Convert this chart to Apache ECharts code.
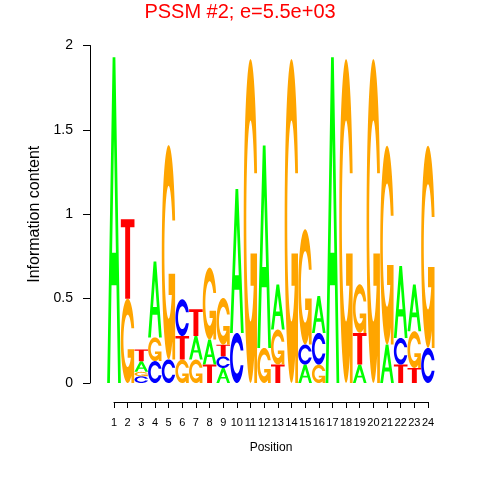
<!DOCTYPE html>
<html>
<head>
<meta charset="utf-8">
<script src="https://cdn.jsdelivr.net/npm/echarts@6/dist/echarts.min.js"></script>
<style>html,body{margin:0;padding:0;background:#fff}#c{width:480px;height:480px}</style>
</head>
<body>
<div id="c"></div>
<script>
// ---- data (information content in bits per letter, per position) ----
const positions = [1,2,3,4,5,6,7,8,9,10,11,12,13,14,15,16,17,18,19,20,21,22,23,24];
const bitsA = [1.93,0,0.063,0.45,0,0,0.139,0.149,0.089,0.852,0,1.20,0.267,0,0.109,0.218,1.93,0,0.109,0,0.228,0.426,0.277,0];
const bitsC = [0,0,0.04,0.13,0.14,0.218,0,0,0.069,0.297,0,0,0,0,0.119,0.188,0,0,0,0,0,0.158,0,0.208];
const bitsG = [0,0.50,0.026,0.14,1.27,0.139,0.139,0.426,0.277,0,1.92,0.208,0.208,1.92,0.683,0.109,0,1.92,0.288,1.92,1.178,0,0.218,1.198];
const bitsT = [0,0.47,0.069,0,0,0.139,0.159,0.109,0.069,0,0,0,0.109,0,0,0,0,0,0.188,0,0,0.109,0.089,0];
// letters stacked bottom -> top at each position
const stackOrder = ["A","GT","CGAT","CGA","CG","GTC","GAT","TAG","ACTG","CA","G","GA","TGA","G","ACG","GCA","A","G","ATG","G","AG","TCA","TGA","CG"];
const yTicks = [0, 0.5, 1, 1.5, 2];
const titleText = 'PSSM #2; e=5.5e+03';

const bits = {A: bitsA, C: bitsC, G: bitsG, T: bitsT};
const colors = {A: '#00ff00', C: '#0000ff', G: '#ffa500', T: '#ff0000'};

// ---- glyph outlines in a unit box (x right, y up) ----
function area(p){let s=0;for(let i=0;i<p.length;i++){const a=p[i],b=p[(i+1)%p.length];s+=a[0]*b[1]-b[0]*a[1];}return s/2;}
function orient(p, positive){const s=area(p);return ((s>0)===positive)?p:p.slice().reverse();}
function ring(){
  const t0=0.3, ro=0.5, ri=0.31, N=60;
  const yc=ro*Math.sin(t0);
  const p0=Math.asin(Math.min(0.999, yc/ri));
  const pts=[];
  for(let k=0;k<=N;k++){const a=t0+(2*Math.PI-2*t0)*k/N;pts.push([0.5+ro*Math.cos(a),0.5+ro*Math.sin(a)]);}
  for(let k=N;k>=0;k--){const a=p0+(2*Math.PI-2*p0)*k/N;pts.push([0.5+ri*Math.cos(a),0.5+ri*Math.sin(a)]);}
  return pts;
}
const r1 = 0.5+0.5*Math.cos(0.3);
const glyphs = {
  A: [orient([[0,0],[0.4,1],[0.6,1],[1,0],[0.8,0],[0.68,0.3],[0.32,0.3],[0.2,0]],true),
      orient([[0.36,0.4],[0.5,0.75],[0.64,0.4]],false)],
  C: [orient(ring(),true)],
  G: [orient(ring(),true),
      orient([[r1,0.4],[0.5,0.4],[0.5,0.3],[r1-0.2,0.3],[r1-0.2,0],[r1,0]],true)],
  T: [orient([[0,1],[1,1],[1,0.9],[0.68,0.9],[0.68,0],[0.32,0],[0.32,0.9],[0,0.9]],true)]
};
function glyphPath(L,x0,yb,w,h){
  let d='';
  glyphs[L].forEach(sp=>{
    sp.forEach((p,i)=>{d+=(i?'L':'M')+(x0+p[0]*w).toFixed(2)+' '+(yb-p[1]*h).toFixed(2)+' ';});
    d+='Z ';
  });
  return d;
}

const chart = echarts.init(document.getElementById('c'), null, {renderer:'canvas'});
const FONT = 'Liberation Sans, Arial, Helvetica, sans-serif';
chart.setOption({
  animation: false,
  textStyle: {fontFamily: FONT},
  title: {text: titleText, left: 'center', top: -3,
    textStyle: {color: '#ff0000', fontSize: 20, fontWeight: 'normal', fontFamily: FONT}},
  grid: {left: 114, right: 52, top: 45.5, bottom: 97},
  xAxis: {
    type: 'value', min: 1, max: 24, interval: 1, position: 'bottom', offset: 19,
    axisLine: {show: true, onZero: false, lineStyle: {color: '#000', width: 1}},
    axisTick: {show: true, length: 6, lineStyle: {color: '#000'}},
    axisLabel: {fontSize: 11, color: '#000', margin: 15, fontFamily: FONT, showMinLabel: true, showMaxLabel: true},
    splitLine: {show: false},
    name: 'Position', nameLocation: 'middle', nameGap: 40,
    nameTextStyle: {fontSize: 12, color: '#000', fontFamily: FONT}
  },
  yAxis: {
    type: 'value', min: 0, max: 2, interval: 0.5, offset: 24,
    axisLine: {show: true, lineStyle: {color: '#000', width: 1}},
    axisTick: {show: true, length: 7, lineStyle: {color: '#000'}},
    axisLabel: {fontSize: 14, color: '#000', margin: 17, fontFamily: FONT},
    splitLine: {show: false},
    name: 'Information content', nameLocation: 'middle', nameGap: 40, nameRotate: 90,
    nameTextStyle: {fontSize: 16, color: '#000', fontFamily: FONT}
  },
  series: [{
    type: 'custom',
    clip: false,
    data: positions.map(p => [p]),
    encode: {x: 0},
    renderItem: function(params, api){
      const i = params.dataIndex;
      const pos = api.value(0);
      let cum = 0;
      const children = [];
      for (const L of stackOrder[i]){
        const h = bits[L][i];
        if (!(h > 0)) continue;
        const p0 = api.coord([pos - 0.5, cum]);
        const p1 = api.coord([pos + 0.5, cum + h]);
        cum += h;
        children.push({type: 'path',
          shape: {pathData: glyphPath(L, p0[0], p0[1], p1[0]-p0[0], p0[1]-p1[1])},
          style: {fill: colors[L], stroke: null}});
      }
      return {type: 'group', children: children};
    }
  }]
});
</script>
</body>
</html>
